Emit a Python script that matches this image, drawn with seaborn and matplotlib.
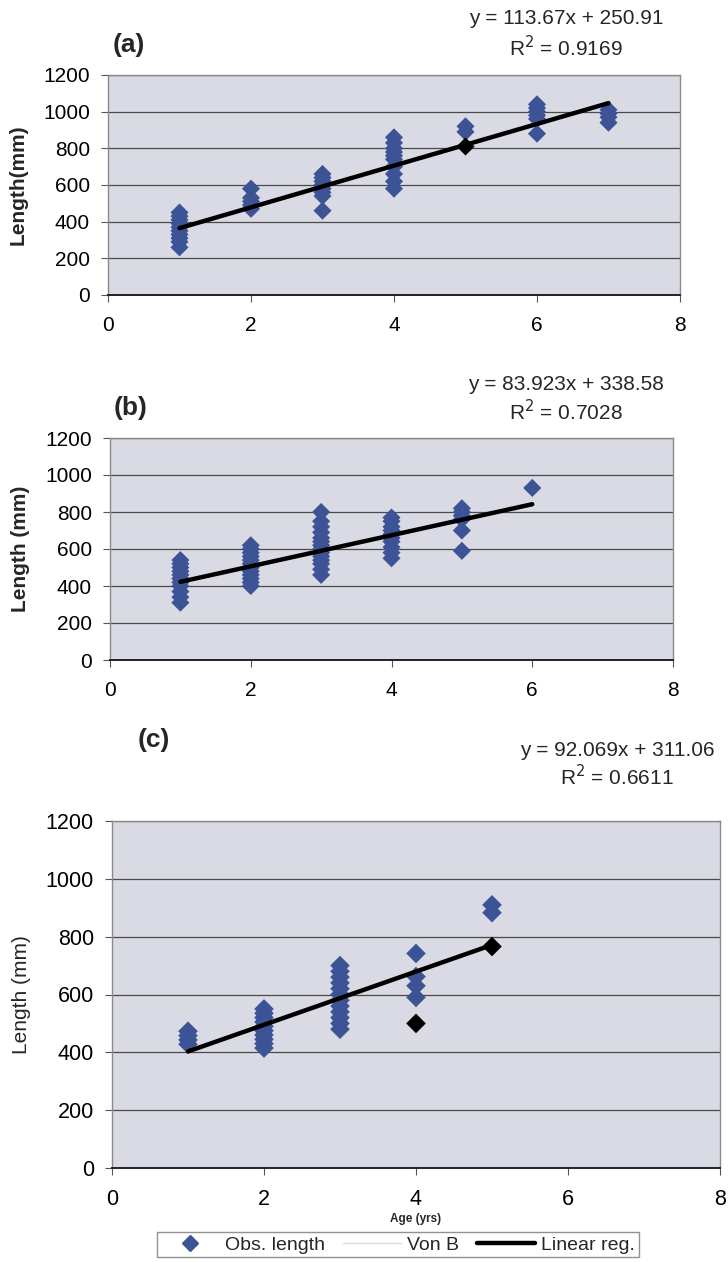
import numpy as np
import pandas as pd
import matplotlib
matplotlib.use("Agg")
import matplotlib.pyplot as plt
from matplotlib.lines import Line2D
import seaborn as sns

sns.set_theme(style="white")
plt.rcParams['font.family'] = ['Liberation Sans', 'DejaVu Sans']

# ---------------- data ----------------
# Panel (a)
a_age = [1]*10 + [2]*5 + [3]*8 + [4]*10 + [5]*2 + [6]*6 + [7]*4
a_len = [260, 290, 310, 330, 350, 370, 390, 410, 430, 450,
         470, 490, 510, 530, 580,
         460, 540, 560, 580, 600, 620, 640, 660,
         580, 620, 660, 700, 740, 760, 780, 800, 830, 860,
         890, 920,
         880, 960, 980, 1000, 1020, 1040,
         940, 970, 990, 1010]
a_black_age = [5]
a_black_len = [810]
a_slope, a_icpt, a_r2 = 113.67, 250.91, 0.9169
a_xrange = [1, 7]

# Panel (b)
b_age = [1]*11 + [2]*12 + [3]*14 + [4]*10 + [5]*6 + [6]*1
b_len = [310, 340, 370, 400, 420, 440, 460, 480, 500, 520, 540,
         400, 420, 440, 460, 480, 500, 520, 540, 560, 580, 600, 620,
         460, 490, 520, 540, 560, 580, 600, 620, 640, 660, 690, 720, 750, 800,
         550, 580, 610, 640, 660, 680, 700, 720, 750, 770,
         590, 700, 760, 780, 800, 820,
         930]
b_black_age = []
b_black_len = []
b_slope, b_icpt, b_r2 = 83.923, 338.58, 0.7028
b_xrange = [1, 6]

# Panel (c)
c_age = [1]*4 + [2]*10 + [3]*12 + [4]*4 + [5]*2
c_len = [428, 443, 458, 473,
         415, 430, 445, 460, 475, 490, 505, 520, 535, 550,
         480, 500, 520, 540, 560, 580, 600, 620, 640, 660, 680, 700,
         590, 630, 662, 742,
         883, 910]
c_black_age = [4, 5]
c_black_len = [500, 766]
c_slope, c_icpt, c_r2 = 92.069, 311.06, 0.6611
c_xrange = [1, 5]

x_ticks = [0, 2, 4, 6, 8]
y_ticks = [0, 200, 400, 600, 800, 1000, 1200]
panel_labels = ["(a)", "(b)", "(c)"]
y_labels = ["Length(mm)", "Length (mm)", "Length (mm)"]
x_label_c = "Age (yrs)"
legend_labels = ["Obs. length", "Von B", "Linear reg."]

# ---------------- layout ----------------
W, H = 728, 1262
fig = plt.figure(figsize=(W / 100, H / 100), dpi=100)
fig.patch.set_facecolor("white")

def box(l, t, r, b):
    return [l / W, 1 - b / H, (r - l) / W, (b - t) / H]

def fxy(x, y):
    return x / W, 1 - y / H

obs_color = "#3c5496"
bg_color = "#d9dae4"

panels = [
    dict(age=a_age, ln=a_len, bage=a_black_age, bln=a_black_len, slope=a_slope,
         icpt=a_icpt, r2=a_r2, xr=a_xrange, rect=box(108, 75, 680, 295),
         ylab_bold=True, fs=15, ylx=-0.14, ms=85),
    dict(age=b_age, ln=b_len, bage=b_black_age, bln=b_black_len, slope=b_slope,
         icpt=b_icpt, r2=b_r2, xr=b_xrange, rect=box(110, 438, 673, 660),
         ylab_bold=True, fs=15, ylx=-0.142, ms=85),
    dict(age=c_age, ln=c_len, bage=c_black_age, bln=c_black_len, slope=c_slope,
         icpt=c_icpt, r2=c_r2, xr=c_xrange, rect=box(112, 821, 720, 1168),
         ylab_bold=False, fs=15.5, ylx=-0.133, ms=100),
]

axes = []
for i, p in enumerate(panels):
    ax = fig.add_axes(p["rect"])
    axes.append(ax)
    ax.set_facecolor(bg_color)
    df = pd.DataFrame({"age": p["age"], "len": p["ln"]})
    sns.scatterplot(data=df, x="age", y="len", ax=ax, marker="D", s=p["ms"],
                    color=obs_color, edgecolor="none", zorder=3)
    if p["bage"]:
        dfb = pd.DataFrame({"age": p["bage"], "len": p["bln"]})
        sns.scatterplot(data=dfb, x="age", y="len", ax=ax, marker="D", s=p["ms"],
                        color="black", edgecolor="none", zorder=4)
    xs = np.array(p["xr"], dtype=float)
    dfl = pd.DataFrame({"age": xs, "len": p["slope"] * xs + p["icpt"]})
    sns.lineplot(data=dfl, x="age", y="len", ax=ax, color="black", lw=3.2, zorder=5)

    ax.set_xlim(0, 8)
    ax.set_ylim(0, 1200)
    ax.set_xticks(x_ticks)
    ax.set_yticks(y_ticks)
    ax.yaxis.grid(True, color="#4a4a4a", lw=0.9)
    ax.xaxis.grid(False)
    ax.set_axisbelow(True)
    for s in ["top", "right", "left"]:
        ax.spines[s].set_color("#8a8a8a")
        ax.spines[s].set_linewidth(1.0)
    ax.spines["bottom"].set_color("#222222")
    ax.spines["bottom"].set_linewidth(1.4)
    ax.tick_params(axis="both", which="both", direction="out", length=5,
                   width=0.8, color="#555555", labelsize=p["fs"], labelcolor="black",
                   left=True, bottom=True)
    ax.tick_params(axis="x", pad=10)
    ax.tick_params(axis="y", pad=8)
    ax.set_ylabel(y_labels[i], fontsize=15,
                  fontweight="bold" if p["ylab_bold"] else "normal")
    ax.yaxis.set_label_coords(p["ylx"], 0.5)
    ax.set_xlabel("")

axes[2].set_xlabel(x_label_c, fontsize=8.5, fontweight="bold")
axes[2].xaxis.set_label_coords(0.5, -0.13)

# panel labels
fig.text(*fxy(129, 45), panel_labels[0], fontsize=19, fontweight="bold",
         ha="center", va="center")
fig.text(*fxy(131, 408), panel_labels[1], fontsize=19, fontweight="bold",
         ha="center", va="center")
fig.text(*fxy(154, 740), panel_labels[2], fontsize=19, fontweight="bold",
         ha="center", va="center")

# equations
eq_pos = [(566, 18, 48), (566, 385, 412), (617, 750, 777)]
for p, (ex, y1, y2) in zip(panels, eq_pos):
    fig.text(*fxy(ex, y1), f"y = {p['slope']}x + {p['icpt']}", fontsize=15,
             ha="center", va="center")
    fig.text(*fxy(ex, y2), f"R$^2$ = {p['r2']:.4f}", fontsize=15,
             ha="center", va="center")

# legend
handles = [
    Line2D([], [], marker="D", color=obs_color, linestyle="none", markersize=8),
    Line2D([], [], color="#dcdcdc", lw=1.0),
    Line2D([], [], color="black", lw=3.2),
]
leg = fig.legend(handles, legend_labels, loc="upper center",
                 bbox_to_anchor=fxy(398, 1232), ncol=3, fontsize=14,
                 frameon=True, fancybox=False, edgecolor="#777777",
                 handlelength=3.0, handletextpad=0.3, columnspacing=0.9,
                 borderpad=0.2, borderaxespad=0)
leg.get_frame().set_linewidth(1.0)

fig.savefig("out.png", dpi=100, facecolor="white")
